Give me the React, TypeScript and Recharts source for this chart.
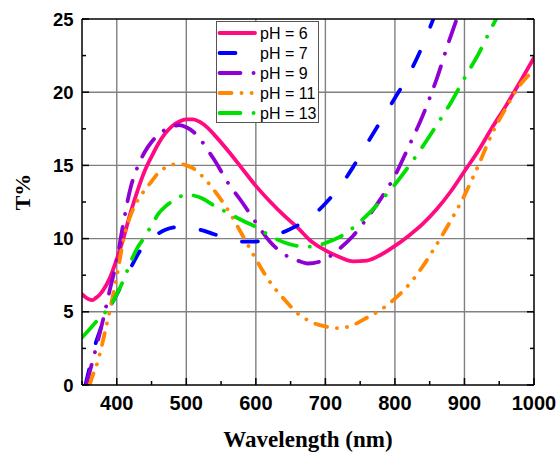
import { LineChart, Line, XAxis, YAxis, CartesianGrid, Legend } from "recharts";

// wavelength (nm) / transmittance (%)
const wl6 = [350, 355, 360, 365, 370, 375, 380, 390, 400, 410, 420, 430, 440, 450, 460, 470, 480, 490, 500, 510, 520, 530, 540, 560, 580, 600, 620, 640, 660, 680, 700, 720, 740, 760, 780, 800, 820, 840, 860, 880, 900, 920, 940, 960, 980, 1000];
const t6 = [6.2, 6.0, 5.85, 5.8, 5.95, 6.15, 6.45, 7.3, 8.6, 10.1, 11.8, 13.3, 14.6, 15.6, 16.5, 17.2, 17.7, 18.0, 18.15, 18.15, 17.95, 17.6, 17.1, 16.0, 14.8, 13.6, 12.55, 11.6, 10.75, 9.8, 9.2, 8.75, 8.45, 8.5, 8.9, 9.5, 10.2, 11.0, 12.0, 13.2, 14.6, 16.0, 17.6, 19.1, 20.7, 22.35];

const wl7 = [355, 360, 365, 370, 375, 380, 390, 400, 410, 420, 430, 440, 450, 460, 470, 480, 490, 500, 510, 520, 540, 560, 580, 600, 620, 640, 660, 680, 700, 720, 740, 760, 780, 800, 820, 840, 860];
const t7 = [0, 1.0, 2.0, 2.9, 3.6, 4.3, 5.3, 6.2, 7.1, 8.0, 8.9, 9.6, 10.0, 10.35, 10.6, 10.75, 10.8, 10.8, 10.7, 10.6, 10.3, 10.0, 9.8, 9.8, 10.0, 10.45, 10.9, 11.5, 12.4, 13.5, 14.9, 16.5, 18.05, 19.6, 21.2, 23.2, 25.6];

const wl9 = [356, 360, 370, 380, 390, 400, 410, 420, 430, 440, 450, 460, 470, 480, 490, 500, 510, 520, 530, 540, 560, 580, 600, 620, 640, 660, 675, 690, 700, 720, 740, 760, 780, 800, 820, 840, 860, 880, 900];
const t9 = [0, 0.7, 2.5, 4.4, 6.5, 8.5, 11.2, 13.5, 14.9, 15.9, 16.6, 17.1, 17.45, 17.65, 17.75, 17.6, 17.3, 16.8, 16.1, 15.4, 13.8, 12.5, 11.1, 9.8, 8.95, 8.5, 8.3, 8.4, 8.6, 9.3, 10.2, 11.4, 12.75, 14.3, 16.3, 18.4, 20.9, 23.8, 26.4];

const wl11 = [361, 365, 370, 375, 380, 390, 400, 410, 420, 430, 440, 450, 460, 470, 480, 490, 500, 510, 520, 530, 540, 560, 580, 600, 620, 640, 660, 680, 700, 720, 740, 760, 780, 800, 820, 840, 860, 880, 900, 920, 940, 960, 980, 1000];
const t11 = [0, 0.6, 1.2, 2.0, 3.0, 5.1, 7.4, 10.0, 11.6, 12.6, 13.3, 13.9, 14.5, 14.85, 15.05, 15.1, 15.0, 14.8, 14.4, 13.9, 13.3, 11.95, 10.3, 8.6, 7.05, 5.9, 4.9, 4.3, 4.0, 3.88, 4.1, 4.6, 5.15, 5.9, 6.85, 8.1, 9.6, 11.2, 12.95, 15.0, 17.2, 18.95, 20.5, 21.5];

const wl13 = [350, 360, 370, 380, 390, 400, 410, 420, 430, 440, 450, 460, 470, 480, 490, 500, 510, 520, 540, 560, 580, 600, 620, 640, 660, 680, 700, 720, 740, 760, 780, 800, 820, 840, 860, 880, 900, 920, 940, 950];
const t13 = [3.25, 3.75, 4.3, 4.8, 5.35, 6.2, 7.2, 8.4, 9.4, 10.1, 10.9, 11.7, 12.2, 12.55, 12.85, 13.0, 12.95, 12.8, 12.25, 11.75, 11.25, 10.8, 10.2, 9.75, 9.5, 9.45, 9.7, 10.1, 10.75, 11.6, 12.6, 13.7, 14.95, 16.3, 17.75, 19.25, 20.95, 22.6, 24.5, 25.4];

const xTicks = [350, 400, 450, 500, 550, 600, 650, 700, 750, 800, 850, 900, 950, 1000];
const yTicks = [0, 2.5, 5, 7.5, 10, 12.5, 15, 17.5, 20, 22.5, 25];
const xGrid = [400, 500, 600, 700, 800, 900];
const yGrid = [5, 10, 15, 20];

const series = [
  { key: "ph6", name: "pH = 6", wl: wl6, t: t6, color: "#ff0a80", dash: undefined },
  { key: "ph7", name: "pH = 7", wl: wl7, t: t7, color: "#0000ff", dash: "16 27" },
  { key: "ph9", name: "pH = 9", wl: wl9, t: t9, color: "#8f00d4", dash: "21 13 0.1 13" },
  { key: "ph11", name: "pH = 11", wl: wl11, t: t11, color: "#ff8800", dash: "12 10 0.1 10 0.1 10" },
  { key: "ph13", name: "pH = 13", wl: wl13, t: t13, color: "#00e000", dash: "21 13 0.1 13" },
];

const toPoints = (xs: number[], ys: number[]) => xs.map((x, i) => ({ wl: x, t: ys[i] }));

const SANS = '"Liberation Sans", Arial, sans-serif';
const SERIF = '"Liberation Serif", "Times New Roman", serif';
const MAJOR = 7;
const MINOR = 4;
const LINE_W = 3.8;

function BottomTick({ x, y, payload }: any) {
  const v = payload.value;
  const major = v % 100 === 0;
  return (
    <g>
      <line x1={x} x2={x} y1={y} y2={y - (major ? MAJOR : MINOR)} stroke="#000" strokeWidth={1.5} />
      {major && (
        <text x={x} y={y + 25} textAnchor="middle" fontFamily={SANS} fontWeight="bold" fontSize={20} fill="#000">
          {v}
        </text>
      )}
    </g>
  );
}

function TopTick({ x, y, payload }: any) {
  const major = payload.value % 100 === 0;
  return <line x1={x} x2={x} y1={y} y2={y + (major ? MAJOR : MINOR)} stroke="#000" strokeWidth={1.5} />;
}

function LeftTick({ x, y, payload }: any) {
  const v = payload.value;
  const major = v % 5 === 0;
  return (
    <g>
      <line x1={x} x2={x + (major ? MAJOR : MINOR)} y1={y} y2={y} stroke="#000" strokeWidth={1.5} />
      {major && (
        <text x={x - 8.5} y={y + 6.5} textAnchor="end" fontFamily={SANS} fontWeight="bold" fontSize={18.5} fill="#000">
          {v}
        </text>
      )}
    </g>
  );
}

function RightTick({ x, y, payload }: any) {
  const major = payload.value % 5 === 0;
  return <line x1={x} x2={x - (major ? MAJOR : MINOR)} y1={y} y2={y} stroke="#000" strokeWidth={1.5} />;
}

// legend drawn from the series list so the order matches the figure
function LegendBox() {
  return (
    <div style={{ width: 103, height: 102, boxSizing: "border-box", border: "1px solid #555", background: "#fff" }}>
      <svg width={101} height={100} style={{ display: "block" }}>
        {series.map((s, i) => {
          const cy = 11 + i * 20;
          return (
            <g key={s.key}>
              <line x1={2.5} x2={38} y1={cy} y2={cy} stroke={s.color} strokeWidth={LINE_W} strokeLinecap="round" strokeDasharray={s.dash} />
              <text x={43} y={cy + 5.5} fontFamily={SANS} fontSize={16} fill="#000">
                {s.name}
              </text>
            </g>
          );
        })}
      </svg>
    </div>
  );
}

export default function App() {
  return (
    <div style={{ position: "absolute", left: 0, top: 0 }}>
      <LineChart width={558} height={452} margin={{ top: 18, right: 23, bottom: 66, left: 81 }}>
        <CartesianGrid verticalValues={xGrid} horizontalValues={yGrid} stroke="#808080" strokeWidth={1.4} />
        <XAxis
          type="number"
          dataKey="wl"
          domain={[350, 1000]}
          allowDataOverflow
          ticks={xTicks}
          interval={0}
          height={1}
          tickSize={0}
          tickMargin={0}
          tickLine={false}
          tick={(p: any) => <BottomTick {...p} />}
          axisLine={{ stroke: "#000", strokeWidth: 1.5 }}
          label={(p: any) => {
            const vb = p.viewBox;
            return (
              <text x={vb.x + vb.width / 2} y={vb.y + 62} textAnchor="middle" fontFamily={SERIF} fontWeight="bold" fontSize={23} fill="#000">
                Wavelength (nm)
              </text>
            );
          }}
        />
        <XAxis
          xAxisId="top"
          orientation="top"
          type="number"
          domain={[350, 1000]}
          allowDataOverflow
          ticks={xTicks}
          interval={0}
          height={1}
          tickSize={0}
          tickMargin={0}
          tickLine={false}
          tick={(p: any) => <TopTick {...p} />}
          axisLine={{ stroke: "#000", strokeWidth: 1.5 }}
        />
        <YAxis
          type="number"
          domain={[0, 25]}
          allowDataOverflow
          ticks={yTicks}
          interval={0}
          width={1}
          tickSize={0}
          tickMargin={0}
          tickLine={false}
          tick={(p: any) => <LeftTick {...p} />}
          axisLine={{ stroke: "#000", strokeWidth: 1.5 }}
          label={(p: any) => {
            const vb = p.viewBox;
            const cx = vb.x - 59;
            const cy = vb.y + vb.height / 2 - 10;
            return (
              <text x={cx} y={cy} transform={`rotate(-90 ${cx} ${cy})`} textAnchor="middle" dominantBaseline="central" fontFamily={SERIF} fontWeight="bold" fontSize={22} fill="#000">
                T%
              </text>
            );
          }}
        />
        <YAxis
          yAxisId="right"
          orientation="right"
          type="number"
          domain={[0, 25]}
          allowDataOverflow
          ticks={yTicks}
          interval={0}
          width={1}
          tickSize={0}
          tickMargin={0}
          tickLine={false}
          tick={(p: any) => <RightTick {...p} />}
          axisLine={{ stroke: "#000", strokeWidth: 1.5 }}
        />
        {series.map((s) => (
          <Line
            key={s.key}
            data={toPoints(s.wl, s.t)}
            dataKey="t"
            name={s.name}
            type="monotone"
            stroke={s.color}
            strokeWidth={LINE_W}
            strokeLinecap="round"
            strokeDasharray={s.dash}
            dot={false}
            activeDot={false}
            isAnimationActive={false}
          />
        ))}
        <Legend
          layout="vertical"
          align="center"
          verticalAlign="middle"
          content={() => <LegendBox />}
          wrapperStyle={{ left: 216, top: 21, width: 103, height: 102 }}
        />
      </LineChart>
    </div>
  );
}
